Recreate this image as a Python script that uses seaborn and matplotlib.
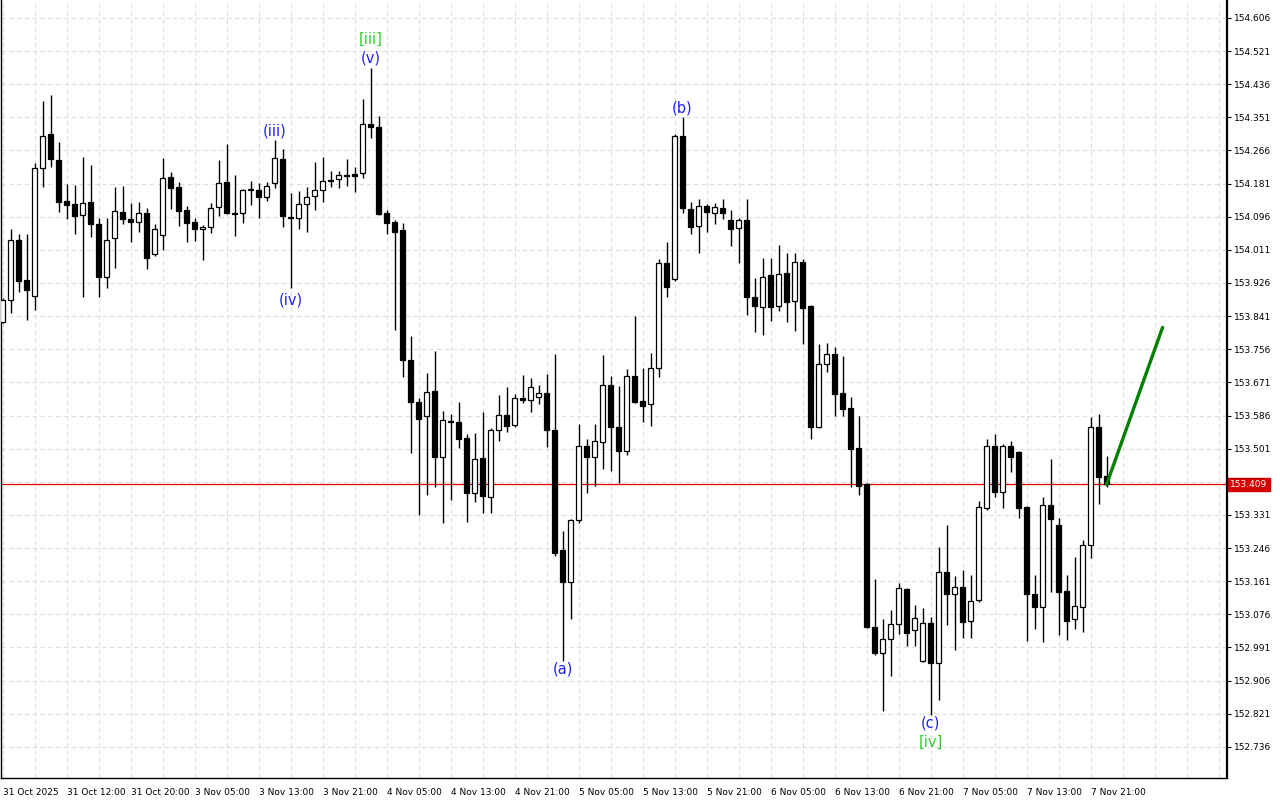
import matplotlib
matplotlib.use("Agg")
import matplotlib.pyplot as plt
import numpy as np
import pandas as pd
import seaborn as sns

# ---------------- data (USDJPY-like H1 candles) ----------------
opens = [153.826, 153.882, 154.036, 153.934, 153.892, 154.221, 154.308, 154.241, 154.136, 154.129,
         154.100, 154.134, 154.077, 153.941, 154.041, 154.108, 154.090, 154.082, 154.105, 154.000,
         154.049, 154.198, 154.172, 154.113, 154.082, 154.064, 154.070, 154.121, 154.185, 154.105,
         154.105, 154.164, 154.164, 154.147, 154.182, 154.244, 154.095, 154.093, 154.129, 154.149,
         154.164, 154.188, 154.193, 154.203, 154.206, 154.208, 154.334, 154.326, 154.105, 154.082,
         154.062, 153.728, 153.620, 153.585, 153.649, 153.479, 153.572, 153.569, 153.528, 153.387,
         153.477, 153.377, 153.549, 153.587, 153.561, 153.631, 153.626, 153.633, 153.644, 153.549,
         153.241, 153.159, 153.318, 153.508, 153.479, 153.518, 153.664, 153.556, 153.495, 153.687,
         153.623, 153.615, 153.708, 153.977, 153.936, 154.303, 154.116, 154.072, 154.123, 154.105,
         154.118, 154.087, 154.067, 154.087, 153.890, 153.864, 153.946, 153.867, 153.951, 153.880,
         153.980, 153.867, 153.556, 153.718, 153.744, 153.644, 153.605, 153.502, 153.410, 153.043,
         152.976, 153.012, 153.051, 153.141, 153.035, 152.956, 153.053, 152.951, 153.184, 153.128,
         153.146, 153.059, 153.112, 153.348, 153.508, 153.390, 153.508, 153.492, 153.351, 153.128,
         153.094, 153.356, 153.305, 153.135, 153.064, 153.094, 153.254, 153.556, 153.431]

highs = [153.887, 154.064, 154.052, 154.052, 154.234, 154.393, 154.408, 154.288, 154.180, 154.177,
         154.249, 154.229, 154.093, 154.093, 154.172, 154.175, 154.131, 154.134, 154.118, 154.077,
         154.247, 154.211, 154.185, 154.123, 154.093, 154.075, 154.131, 154.241, 154.283, 154.203,
         154.167, 154.188, 154.182, 154.185, 154.293, 154.270, 154.157, 154.162, 154.172, 154.236,
         154.249, 154.213, 154.213, 154.244, 154.223, 154.398, 154.478, 154.354, 154.113, 154.087,
         154.080, 153.790, 153.631, 153.695, 153.751, 153.597, 153.590, 153.620, 153.538, 153.541,
         153.595, 153.553, 153.638, 153.659, 153.641, 153.690, 153.682, 153.664, 153.692, 153.744,
         153.289, 153.320, 153.564, 153.526, 153.564, 153.741, 153.687, 153.662, 153.705, 153.841,
         153.708, 153.746, 153.987, 154.031, 154.308, 154.352, 154.134, 154.141, 154.129, 154.131,
         154.141, 154.113, 154.093, 154.141, 153.939, 153.990, 153.990, 154.023, 154.003, 154.003,
         153.987, 153.869, 153.769, 153.772, 153.762, 153.739, 153.633, 153.585, 153.413, 153.166,
         153.064, 153.087, 153.156, 153.143, 153.100, 153.092, 153.069, 153.248, 153.305, 153.174,
         153.189, 153.177, 153.366, 153.526, 153.538, 153.513, 153.520, 153.495, 153.354, 153.177,
         153.377, 153.474, 153.323, 153.177, 153.223, 153.266, 153.582, 153.590, 153.482]

lows = [153.823, 153.849, 153.903, 153.831, 153.857, 154.172, 154.223, 154.108, 154.090, 154.052,
        153.890, 154.044, 153.890, 153.913, 153.964, 154.077, 154.031, 154.057, 153.962, 153.995,
        154.011, 154.116, 154.072, 154.031, 154.034, 153.985, 154.054, 154.098, 154.103, 154.046,
        154.080, 154.126, 154.093, 154.136, 154.170, 154.070, 153.913, 154.064, 154.057, 154.113,
        154.134, 154.172, 154.170, 154.175, 154.159, 154.195, 154.298, 154.100, 154.052, 153.805,
        153.685, 153.490, 153.331, 153.382, 153.402, 153.310, 153.369, 153.502, 153.313, 153.364,
        153.336, 153.336, 153.520, 153.543, 153.556, 153.618, 153.595, 153.615, 153.505, 153.225,
        152.956, 153.064, 153.310, 153.387, 153.405, 153.449, 153.443, 153.413, 153.484, 153.618,
        153.569, 153.559, 153.685, 153.890, 153.931, 154.105, 154.052, 154.003, 154.057, 154.077,
        154.090, 154.021, 153.977, 153.844, 153.800, 153.792, 153.828, 153.854, 153.826, 153.803,
        153.769, 153.526, 153.554, 153.697, 153.585, 153.585, 153.402, 153.382, 153.041, 152.971,
        152.828, 152.917, 153.025, 152.994, 152.994, 152.954, 152.817, 152.856, 153.048, 152.984,
        153.015, 153.015, 153.107, 153.343, 153.377, 153.348, 153.441, 153.323, 153.007, 153.038,
        153.005, 153.133, 153.023, 153.010, 153.038, 153.030, 153.220, 153.359, 153.402]

closes = [153.882, 154.036, 153.931, 153.908, 154.221, 154.303, 154.244, 154.134, 154.126, 154.098,
          154.131, 154.077, 153.941, 154.036, 154.111, 154.090, 154.082, 154.105, 153.990, 154.064,
          154.195, 154.170, 154.111, 154.080, 154.064, 154.070, 154.118, 154.182, 154.105, 154.103,
          154.164, 154.167, 154.147, 154.175, 154.247, 154.098, 154.093, 154.129, 154.147, 154.164,
          154.188, 154.190, 154.203, 154.200, 154.200, 154.334, 154.326, 154.103, 154.080, 154.057,
          153.728, 153.620, 153.577, 153.646, 153.479, 153.574, 153.569, 153.526, 153.387, 153.474,
          153.379, 153.549, 153.587, 153.559, 153.631, 153.626, 153.659, 153.644, 153.549, 153.233,
          153.159, 153.318, 153.508, 153.479, 153.520, 153.664, 153.556, 153.495, 153.687, 153.620,
          153.610, 153.708, 153.977, 153.916, 154.303, 154.118, 154.070, 154.123, 154.108, 154.121,
          154.105, 154.064, 154.087, 153.890, 153.867, 153.941, 153.864, 153.949, 153.877, 153.980,
          153.862, 153.556, 153.718, 153.744, 153.641, 153.603, 153.500, 153.405, 153.043, 152.976,
          153.012, 153.051, 153.143, 153.028, 153.066, 153.053, 152.951, 153.184, 153.128, 153.146,
          153.056, 153.110, 153.351, 153.508, 153.390, 153.508, 153.479, 153.348, 153.128, 153.094,
          153.356, 153.320, 153.133, 153.059, 153.097, 153.254, 153.556, 153.428, 153.409]

time_labels = ["31 Oct 2025", "31 Oct 12:00", "31 Oct 20:00", "3 Nov 05:00", "3 Nov 13:00",
               "3 Nov 21:00", "4 Nov 05:00", "4 Nov 13:00", "4 Nov 21:00", "5 Nov 05:00",
               "5 Nov 13:00", "5 Nov 21:00", "6 Nov 05:00", "6 Nov 13:00", "6 Nov 21:00",
               "7 Nov 05:00", "7 Nov 13:00", "7 Nov 21:00"]

price_ticks = [152.736, 152.821, 152.906, 152.991, 153.076, 153.161, 153.246, 153.331, 153.416,
               153.501, 153.586, 153.671, 153.756, 153.841, 153.926, 154.011, 154.096, 154.181,
               154.266, 154.351, 154.436, 154.521, 154.606]

current_price = 153.409
forecast_x = [138, 145]
forecast_y = [153.409, 153.812]

# wave labels: text, candle index, anchor, colour, pixel offset
wave_text = ["[iii]", "(v)", "(iii)", "(iv)", "(a)", "(b)", "(c)", "[iv]"]
wave_idx = [46, 46, 34, 36, 70, 85, 116, 116]
wave_anchor = ["high", "high", "high", "low", "low", "high", "low", "low"]
wave_color = ["#33cc33", "#1f1fff", "#1f1fff", "#1f1fff", "#1f1fff", "#1f1fff", "#1f1fff", "#33cc33"]
wave_off = [29, 10, 9, -12, -8, 9, -8, -27]

# ---------------- figure ----------------
sns.set_theme(style="white")
plt.rcParams["font.family"] = ["DejaVu Sans"]

df = pd.DataFrame({"open": opens, "high": highs, "low": lows, "close": closes})
df["i"] = np.arange(len(df))
up = df["close"] >= df["open"]

fig = plt.figure(figsize=(12.8, 8), dpi=100)
ax = fig.add_axes([0.001, 22 / 800, 1226 / 1280, 778 / 800])
ax.set_facecolor("white")

# wicks
ax.vlines(df["i"], df["low"], df["high"], color="black", linewidth=1.0, zorder=3)
# bodies
bottoms = np.minimum(df["open"], df["close"])
heights = np.maximum(np.abs(df["close"] - df["open"]), 0.0012)
ax.bar(df["i"], heights, bottom=bottoms, width=0.62,
       color=np.where(up, "white", "black"), edgecolor="black", linewidth=0.9, zorder=4)

# current price line
ax.axhline(current_price, color="#e00000", linewidth=0.9, zorder=2)

# forecast arrow
fc = pd.DataFrame({"x": forecast_x, "y": forecast_y})
sns.lineplot(data=fc, x="x", y="y", ax=ax, color="#008000", linewidth=2.4, zorder=6)

# wave labels
for t, i, a, c, o in zip(wave_text, wave_idx, wave_anchor, wave_color, wave_off):
    yv = highs[i] if a == "high" else lows[i]
    ax.annotate(t, xy=(i, yv), xytext=(0, o), textcoords="offset pixels",
                ha="center", va="center", color=c, fontsize=10.5, zorder=7)

# axes limits
ax.set_xlim(-0.16, 153.09)
ax.set_ylim(152.656, 154.652)

# x ticks
major = list(range(0, 8 * len(time_labels), 8))
ax.set_xticks(major)
ax.set_xticklabels(time_labels, ha="left", fontsize=6.5)
ax.set_xticks([v for v in range(0, 153, 4) if v not in major], minor=True)
ax.tick_params(axis="x", which="major", length=3, width=0.8, pad=4, colors="black", direction="out")
ax.tick_params(axis="x", which="minor", length=0)

# y ticks on the right
ax.yaxis.tick_right()
ax.set_yticks(price_ticks)
ax.set_yticklabels(["" if abs(p - 153.416) < 1e-6 else f"{p:.3f}" for p in price_ticks], fontsize=6.5)
ax.tick_params(axis="y", which="major", length=3, width=0.8, pad=2, colors="black", direction="out")

# grid
ax.grid(True, which="both", axis="x", color="#dedede", linestyle=(0, (4, 3)), linewidth=0.8)
ax.grid(True, which="major", axis="y", color="#dedede", linestyle=(0, (4, 3)), linewidth=0.8)
ax.set_axisbelow(True)
ax.set_xlabel("")
ax.set_ylabel("")

for s in ["left", "bottom", "right"]:
    ax.spines[s].set_visible(True)
    ax.spines[s].set_color("black")
    ax.spines[s].set_linewidth(1.0)
ax.spines["top"].set_visible(False)
ax.spines["right"].set_linewidth(1.6)

# current price tag on the axis
ax.annotate(f"{current_price:.3f}", xy=(1.0, current_price), xycoords=("axes fraction", "data"),
            xytext=(3, 0), textcoords="offset pixels", ha="left", va="center",
            fontsize=6.5, color="white", annotation_clip=False, zorder=10,
            bbox=dict(boxstyle="square,pad=0.25", facecolor="#d40000", edgecolor="#d40000"))

fig.savefig("out.png", dpi=100, facecolor="white")
